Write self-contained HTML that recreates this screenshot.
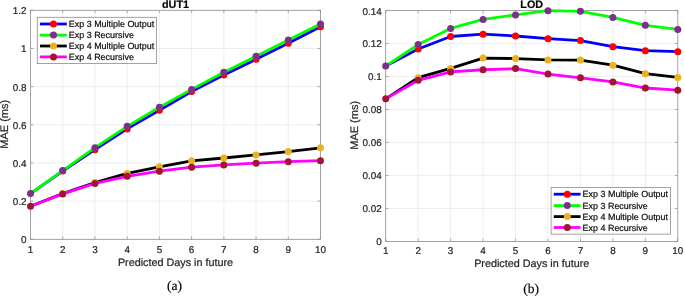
<!DOCTYPE html>
<html><head><meta charset="utf-8"><style>
html,body{margin:0;padding:0;background:#fff;overflow:hidden;}
svg{display:block;will-change:transform;text-rendering:geometricPrecision;}
text{stroke:#262626;stroke-width:0.22px;}
</style></head><body>
<svg width="685" height="296" viewBox="0 0 685 296" font-family='"Liberation Sans", sans-serif' font-size="9.9" fill="#262626">
<line x1="62.72" y1="10.3" x2="62.72" y2="239.3" stroke="#e6e6e6" stroke-width="0.7"/>
<line x1="94.94" y1="10.3" x2="94.94" y2="239.3" stroke="#e6e6e6" stroke-width="0.7"/>
<line x1="127.17" y1="10.3" x2="127.17" y2="239.3" stroke="#e6e6e6" stroke-width="0.7"/>
<line x1="159.39" y1="10.3" x2="159.39" y2="239.3" stroke="#e6e6e6" stroke-width="0.7"/>
<line x1="191.61" y1="10.3" x2="191.61" y2="239.3" stroke="#e6e6e6" stroke-width="0.7"/>
<line x1="223.83" y1="10.3" x2="223.83" y2="239.3" stroke="#e6e6e6" stroke-width="0.7"/>
<line x1="256.06" y1="10.3" x2="256.06" y2="239.3" stroke="#e6e6e6" stroke-width="0.7"/>
<line x1="288.28" y1="10.3" x2="288.28" y2="239.3" stroke="#e6e6e6" stroke-width="0.7"/>
<line x1="30.5" y1="201.13" x2="320.5" y2="201.13" stroke="#e6e6e6" stroke-width="0.7"/>
<line x1="30.5" y1="162.97" x2="320.5" y2="162.97" stroke="#e6e6e6" stroke-width="0.7"/>
<line x1="30.5" y1="124.80" x2="320.5" y2="124.80" stroke="#e6e6e6" stroke-width="0.7"/>
<line x1="30.5" y1="86.63" x2="320.5" y2="86.63" stroke="#e6e6e6" stroke-width="0.7"/>
<line x1="30.5" y1="48.47" x2="320.5" y2="48.47" stroke="#e6e6e6" stroke-width="0.7"/>
<line x1="30.50" y1="239.3" x2="30.50" y2="236.4" stroke="#8c8c8c" stroke-width="0.7"/>
<line x1="30.50" y1="10.3" x2="30.50" y2="13.200000000000001" stroke="#8c8c8c" stroke-width="0.7"/>
<line x1="62.72" y1="239.3" x2="62.72" y2="236.4" stroke="#8c8c8c" stroke-width="0.7"/>
<line x1="62.72" y1="10.3" x2="62.72" y2="13.200000000000001" stroke="#8c8c8c" stroke-width="0.7"/>
<line x1="94.94" y1="239.3" x2="94.94" y2="236.4" stroke="#8c8c8c" stroke-width="0.7"/>
<line x1="94.94" y1="10.3" x2="94.94" y2="13.200000000000001" stroke="#8c8c8c" stroke-width="0.7"/>
<line x1="127.17" y1="239.3" x2="127.17" y2="236.4" stroke="#8c8c8c" stroke-width="0.7"/>
<line x1="127.17" y1="10.3" x2="127.17" y2="13.200000000000001" stroke="#8c8c8c" stroke-width="0.7"/>
<line x1="159.39" y1="239.3" x2="159.39" y2="236.4" stroke="#8c8c8c" stroke-width="0.7"/>
<line x1="159.39" y1="10.3" x2="159.39" y2="13.200000000000001" stroke="#8c8c8c" stroke-width="0.7"/>
<line x1="191.61" y1="239.3" x2="191.61" y2="236.4" stroke="#8c8c8c" stroke-width="0.7"/>
<line x1="191.61" y1="10.3" x2="191.61" y2="13.200000000000001" stroke="#8c8c8c" stroke-width="0.7"/>
<line x1="223.83" y1="239.3" x2="223.83" y2="236.4" stroke="#8c8c8c" stroke-width="0.7"/>
<line x1="223.83" y1="10.3" x2="223.83" y2="13.200000000000001" stroke="#8c8c8c" stroke-width="0.7"/>
<line x1="256.06" y1="239.3" x2="256.06" y2="236.4" stroke="#8c8c8c" stroke-width="0.7"/>
<line x1="256.06" y1="10.3" x2="256.06" y2="13.200000000000001" stroke="#8c8c8c" stroke-width="0.7"/>
<line x1="288.28" y1="239.3" x2="288.28" y2="236.4" stroke="#8c8c8c" stroke-width="0.7"/>
<line x1="288.28" y1="10.3" x2="288.28" y2="13.200000000000001" stroke="#8c8c8c" stroke-width="0.7"/>
<line x1="320.50" y1="239.3" x2="320.50" y2="236.4" stroke="#8c8c8c" stroke-width="0.7"/>
<line x1="320.50" y1="10.3" x2="320.50" y2="13.200000000000001" stroke="#8c8c8c" stroke-width="0.7"/>
<line x1="30.5" y1="239.30" x2="33.4" y2="239.30" stroke="#8c8c8c" stroke-width="0.7"/>
<line x1="320.5" y1="239.30" x2="317.6" y2="239.30" stroke="#8c8c8c" stroke-width="0.7"/>
<line x1="30.5" y1="201.13" x2="33.4" y2="201.13" stroke="#8c8c8c" stroke-width="0.7"/>
<line x1="320.5" y1="201.13" x2="317.6" y2="201.13" stroke="#8c8c8c" stroke-width="0.7"/>
<line x1="30.5" y1="162.97" x2="33.4" y2="162.97" stroke="#8c8c8c" stroke-width="0.7"/>
<line x1="320.5" y1="162.97" x2="317.6" y2="162.97" stroke="#8c8c8c" stroke-width="0.7"/>
<line x1="30.5" y1="124.80" x2="33.4" y2="124.80" stroke="#8c8c8c" stroke-width="0.7"/>
<line x1="320.5" y1="124.80" x2="317.6" y2="124.80" stroke="#8c8c8c" stroke-width="0.7"/>
<line x1="30.5" y1="86.63" x2="33.4" y2="86.63" stroke="#8c8c8c" stroke-width="0.7"/>
<line x1="320.5" y1="86.63" x2="317.6" y2="86.63" stroke="#8c8c8c" stroke-width="0.7"/>
<line x1="30.5" y1="48.47" x2="33.4" y2="48.47" stroke="#8c8c8c" stroke-width="0.7"/>
<line x1="320.5" y1="48.47" x2="317.6" y2="48.47" stroke="#8c8c8c" stroke-width="0.7"/>
<line x1="30.5" y1="10.30" x2="33.4" y2="10.30" stroke="#8c8c8c" stroke-width="0.7"/>
<line x1="320.5" y1="10.30" x2="317.6" y2="10.30" stroke="#8c8c8c" stroke-width="0.7"/>
<rect x="30.5" y="10.3" width="290.00" height="229.00" fill="none" stroke="#8c8c8c" stroke-width="0.8"/>
<polyline points="30.50,193.56 62.72,170.98 94.94,149.70 127.17,128.90 159.39,110.30 191.61,91.59 223.83,75.09 256.06,59.34 288.28,43.31 320.50,26.71" fill="none" stroke="#0000ff" stroke-width="2.8" stroke-linejoin="round"/>
<circle cx="30.50" cy="193.56" r="2.9" fill="#ff0000"/>
<circle cx="62.72" cy="170.98" r="3.5" fill="#ff0000"/>
<circle cx="94.94" cy="149.70" r="3.5" fill="#ff0000"/>
<circle cx="127.17" cy="128.90" r="3.5" fill="#ff0000"/>
<circle cx="159.39" cy="110.30" r="3.5" fill="#ff0000"/>
<circle cx="191.61" cy="91.59" r="3.5" fill="#ff0000"/>
<circle cx="223.83" cy="75.09" r="3.5" fill="#ff0000"/>
<circle cx="256.06" cy="59.34" r="3.5" fill="#ff0000"/>
<circle cx="288.28" cy="43.31" r="3.5" fill="#ff0000"/>
<circle cx="320.50" cy="26.71" r="3.5" fill="#ff0000"/>
<polyline points="30.50,193.56 62.72,170.60 94.94,147.70 127.17,126.33 159.39,107.24 191.61,89.40 223.83,72.32 256.06,56.29 288.28,39.88 320.50,23.91" fill="none" stroke="#00ff00" stroke-width="2.8" stroke-linejoin="round"/>
<circle cx="30.50" cy="193.56" r="3.5" fill="#7e2f8e"/>
<circle cx="62.72" cy="170.60" r="3.5" fill="#7e2f8e"/>
<circle cx="94.94" cy="147.70" r="3.5" fill="#7e2f8e"/>
<circle cx="127.17" cy="126.33" r="3.5" fill="#7e2f8e"/>
<circle cx="159.39" cy="107.24" r="3.5" fill="#7e2f8e"/>
<circle cx="191.61" cy="89.40" r="3.5" fill="#7e2f8e"/>
<circle cx="223.83" cy="72.32" r="3.5" fill="#7e2f8e"/>
<circle cx="256.06" cy="56.29" r="3.5" fill="#7e2f8e"/>
<circle cx="288.28" cy="39.88" r="3.5" fill="#7e2f8e"/>
<circle cx="320.50" cy="23.91" r="3.5" fill="#7e2f8e"/>
<polyline points="30.50,206.29 62.72,193.60 94.94,182.62 127.17,173.46 159.39,166.78 191.61,160.87 223.83,158.00 256.06,154.95 288.28,151.52 320.50,147.80" fill="none" stroke="#000000" stroke-width="2.8" stroke-linejoin="round"/>
<circle cx="30.50" cy="206.29" r="2.9" fill="#edb120"/>
<circle cx="62.72" cy="193.60" r="3.5" fill="#edb120"/>
<circle cx="94.94" cy="182.62" r="3.5" fill="#edb120"/>
<circle cx="127.17" cy="173.46" r="3.5" fill="#edb120"/>
<circle cx="159.39" cy="166.78" r="3.5" fill="#edb120"/>
<circle cx="191.61" cy="160.87" r="3.5" fill="#edb120"/>
<circle cx="223.83" cy="158.00" r="3.5" fill="#edb120"/>
<circle cx="256.06" cy="154.95" r="3.5" fill="#edb120"/>
<circle cx="288.28" cy="151.52" r="3.5" fill="#edb120"/>
<circle cx="320.50" cy="147.80" r="3.5" fill="#edb120"/>
<polyline points="30.50,206.29 62.72,193.88 94.94,183.39 127.17,176.32 159.39,171.17 191.61,167.17 223.83,164.88 256.06,163.16 288.28,161.63 320.50,160.68" fill="none" stroke="#ff00ff" stroke-width="2.8" stroke-linejoin="round"/>
<circle cx="30.50" cy="206.29" r="3.5" fill="#a2142f"/>
<circle cx="62.72" cy="193.88" r="3.5" fill="#a2142f"/>
<circle cx="94.94" cy="183.39" r="3.5" fill="#a2142f"/>
<circle cx="127.17" cy="176.32" r="3.5" fill="#a2142f"/>
<circle cx="159.39" cy="171.17" r="3.5" fill="#a2142f"/>
<circle cx="191.61" cy="167.17" r="3.5" fill="#a2142f"/>
<circle cx="223.83" cy="164.88" r="3.5" fill="#a2142f"/>
<circle cx="256.06" cy="163.16" r="3.5" fill="#a2142f"/>
<circle cx="288.28" cy="161.63" r="3.5" fill="#a2142f"/>
<circle cx="320.50" cy="160.68" r="3.5" fill="#a2142f"/>
<text x="30.50" y="252.90" text-anchor="middle">1</text>
<text x="62.72" y="252.90" text-anchor="middle">2</text>
<text x="94.94" y="252.90" text-anchor="middle">3</text>
<text x="127.17" y="252.90" text-anchor="middle">4</text>
<text x="159.39" y="252.90" text-anchor="middle">5</text>
<text x="191.61" y="252.90" text-anchor="middle">6</text>
<text x="223.83" y="252.90" text-anchor="middle">7</text>
<text x="256.06" y="252.90" text-anchor="middle">8</text>
<text x="288.28" y="252.90" text-anchor="middle">9</text>
<text x="320.50" y="252.90" text-anchor="middle">10</text>
<text x="26.60" y="243.30" text-anchor="end">0</text>
<text x="26.60" y="205.13" text-anchor="end">0.2</text>
<text x="26.60" y="166.97" text-anchor="end">0.4</text>
<text x="26.60" y="128.80" text-anchor="end">0.6</text>
<text x="26.60" y="90.63" text-anchor="end">0.8</text>
<text x="26.60" y="52.47" text-anchor="end">1</text>
<text x="26.60" y="14.30" text-anchor="end">1.2</text>
<text x="175.50" y="265.50" text-anchor="middle" font-size="10.8">Predicted Days in future</text>
<text x="175.50" y="7.9" text-anchor="middle" font-size="10.8" font-weight="bold" fill="#000">dUT1</text>
<rect x="37.3" y="17.3" width="119.3" height="46.3" fill="#fff" stroke="#8c8c8c" stroke-width="0.8"/>
<line x1="40.00" y1="24.0" x2="66.80" y2="24.0" stroke="#0000ff" stroke-width="2.8"/>
<circle cx="53.50" cy="24.0" r="3.5" fill="#ff0000"/>
<text x="68.80" y="27.00" font-size="8.95" fill="#000">Exp 3 Multiple Output</text>
<line x1="40.00" y1="35.1" x2="66.80" y2="35.1" stroke="#00ff00" stroke-width="2.8"/>
<circle cx="53.50" cy="35.1" r="3.5" fill="#7e2f8e"/>
<text x="68.80" y="38.10" font-size="8.95" fill="#000">Exp 3 Recursive</text>
<line x1="40.00" y1="46.0" x2="66.80" y2="46.0" stroke="#000000" stroke-width="2.8"/>
<circle cx="53.50" cy="46.0" r="3.5" fill="#edb120"/>
<text x="68.80" y="49.00" font-size="8.95" fill="#000">Exp 4 Multiple Output</text>
<line x1="40.00" y1="56.9" x2="66.80" y2="56.9" stroke="#ff00ff" stroke-width="2.8"/>
<circle cx="53.50" cy="56.9" r="3.5" fill="#a2142f"/>
<text x="68.80" y="59.90" font-size="8.95" fill="#000">Exp 4 Recursive</text>
<line x1="418.16" y1="10.5" x2="418.16" y2="241.4" stroke="#e6e6e6" stroke-width="0.7"/>
<line x1="450.61" y1="10.5" x2="450.61" y2="241.4" stroke="#e6e6e6" stroke-width="0.7"/>
<line x1="483.07" y1="10.5" x2="483.07" y2="241.4" stroke="#e6e6e6" stroke-width="0.7"/>
<line x1="515.52" y1="10.5" x2="515.52" y2="241.4" stroke="#e6e6e6" stroke-width="0.7"/>
<line x1="547.98" y1="10.5" x2="547.98" y2="241.4" stroke="#e6e6e6" stroke-width="0.7"/>
<line x1="580.43" y1="10.5" x2="580.43" y2="241.4" stroke="#e6e6e6" stroke-width="0.7"/>
<line x1="612.89" y1="10.5" x2="612.89" y2="241.4" stroke="#e6e6e6" stroke-width="0.7"/>
<line x1="645.34" y1="10.5" x2="645.34" y2="241.4" stroke="#e6e6e6" stroke-width="0.7"/>
<line x1="385.7" y1="208.41" x2="677.8" y2="208.41" stroke="#e6e6e6" stroke-width="0.7"/>
<line x1="385.7" y1="175.43" x2="677.8" y2="175.43" stroke="#e6e6e6" stroke-width="0.7"/>
<line x1="385.7" y1="142.44" x2="677.8" y2="142.44" stroke="#e6e6e6" stroke-width="0.7"/>
<line x1="385.7" y1="109.46" x2="677.8" y2="109.46" stroke="#e6e6e6" stroke-width="0.7"/>
<line x1="385.7" y1="76.47" x2="677.8" y2="76.47" stroke="#e6e6e6" stroke-width="0.7"/>
<line x1="385.7" y1="43.49" x2="677.8" y2="43.49" stroke="#e6e6e6" stroke-width="0.7"/>
<line x1="385.70" y1="241.4" x2="385.70" y2="238.5" stroke="#8c8c8c" stroke-width="0.7"/>
<line x1="385.70" y1="10.5" x2="385.70" y2="13.4" stroke="#8c8c8c" stroke-width="0.7"/>
<line x1="418.16" y1="241.4" x2="418.16" y2="238.5" stroke="#8c8c8c" stroke-width="0.7"/>
<line x1="418.16" y1="10.5" x2="418.16" y2="13.4" stroke="#8c8c8c" stroke-width="0.7"/>
<line x1="450.61" y1="241.4" x2="450.61" y2="238.5" stroke="#8c8c8c" stroke-width="0.7"/>
<line x1="450.61" y1="10.5" x2="450.61" y2="13.4" stroke="#8c8c8c" stroke-width="0.7"/>
<line x1="483.07" y1="241.4" x2="483.07" y2="238.5" stroke="#8c8c8c" stroke-width="0.7"/>
<line x1="483.07" y1="10.5" x2="483.07" y2="13.4" stroke="#8c8c8c" stroke-width="0.7"/>
<line x1="515.52" y1="241.4" x2="515.52" y2="238.5" stroke="#8c8c8c" stroke-width="0.7"/>
<line x1="515.52" y1="10.5" x2="515.52" y2="13.4" stroke="#8c8c8c" stroke-width="0.7"/>
<line x1="547.98" y1="241.4" x2="547.98" y2="238.5" stroke="#8c8c8c" stroke-width="0.7"/>
<line x1="547.98" y1="10.5" x2="547.98" y2="13.4" stroke="#8c8c8c" stroke-width="0.7"/>
<line x1="580.43" y1="241.4" x2="580.43" y2="238.5" stroke="#8c8c8c" stroke-width="0.7"/>
<line x1="580.43" y1="10.5" x2="580.43" y2="13.4" stroke="#8c8c8c" stroke-width="0.7"/>
<line x1="612.89" y1="241.4" x2="612.89" y2="238.5" stroke="#8c8c8c" stroke-width="0.7"/>
<line x1="612.89" y1="10.5" x2="612.89" y2="13.4" stroke="#8c8c8c" stroke-width="0.7"/>
<line x1="645.34" y1="241.4" x2="645.34" y2="238.5" stroke="#8c8c8c" stroke-width="0.7"/>
<line x1="645.34" y1="10.5" x2="645.34" y2="13.4" stroke="#8c8c8c" stroke-width="0.7"/>
<line x1="677.80" y1="241.4" x2="677.80" y2="238.5" stroke="#8c8c8c" stroke-width="0.7"/>
<line x1="677.80" y1="10.5" x2="677.80" y2="13.4" stroke="#8c8c8c" stroke-width="0.7"/>
<line x1="385.7" y1="241.40" x2="388.59999999999997" y2="241.40" stroke="#8c8c8c" stroke-width="0.7"/>
<line x1="677.8" y1="241.40" x2="674.9" y2="241.40" stroke="#8c8c8c" stroke-width="0.7"/>
<line x1="385.7" y1="208.41" x2="388.59999999999997" y2="208.41" stroke="#8c8c8c" stroke-width="0.7"/>
<line x1="677.8" y1="208.41" x2="674.9" y2="208.41" stroke="#8c8c8c" stroke-width="0.7"/>
<line x1="385.7" y1="175.43" x2="388.59999999999997" y2="175.43" stroke="#8c8c8c" stroke-width="0.7"/>
<line x1="677.8" y1="175.43" x2="674.9" y2="175.43" stroke="#8c8c8c" stroke-width="0.7"/>
<line x1="385.7" y1="142.44" x2="388.59999999999997" y2="142.44" stroke="#8c8c8c" stroke-width="0.7"/>
<line x1="677.8" y1="142.44" x2="674.9" y2="142.44" stroke="#8c8c8c" stroke-width="0.7"/>
<line x1="385.7" y1="109.46" x2="388.59999999999997" y2="109.46" stroke="#8c8c8c" stroke-width="0.7"/>
<line x1="677.8" y1="109.46" x2="674.9" y2="109.46" stroke="#8c8c8c" stroke-width="0.7"/>
<line x1="385.7" y1="76.47" x2="388.59999999999997" y2="76.47" stroke="#8c8c8c" stroke-width="0.7"/>
<line x1="677.8" y1="76.47" x2="674.9" y2="76.47" stroke="#8c8c8c" stroke-width="0.7"/>
<line x1="385.7" y1="43.49" x2="388.59999999999997" y2="43.49" stroke="#8c8c8c" stroke-width="0.7"/>
<line x1="677.8" y1="43.49" x2="674.9" y2="43.49" stroke="#8c8c8c" stroke-width="0.7"/>
<line x1="385.7" y1="10.50" x2="388.59999999999997" y2="10.50" stroke="#8c8c8c" stroke-width="0.7"/>
<line x1="677.8" y1="10.50" x2="674.9" y2="10.50" stroke="#8c8c8c" stroke-width="0.7"/>
<rect x="385.7" y="10.5" width="292.10" height="230.90" fill="none" stroke="#8c8c8c" stroke-width="0.8"/>
<polyline points="385.70,65.97 418.16,49.01 450.61,36.51 483.07,34.20 515.52,36.01 547.98,38.64 580.43,40.62 612.89,46.70 645.34,50.66 677.80,51.65" fill="none" stroke="#0000ff" stroke-width="2.8" stroke-linejoin="round"/>
<circle cx="385.70" cy="65.97" r="2.9" fill="#ff0000"/>
<circle cx="418.16" cy="49.01" r="3.5" fill="#ff0000"/>
<circle cx="450.61" cy="36.51" r="3.5" fill="#ff0000"/>
<circle cx="483.07" cy="34.20" r="3.5" fill="#ff0000"/>
<circle cx="515.52" cy="36.01" r="3.5" fill="#ff0000"/>
<circle cx="547.98" cy="38.64" r="3.5" fill="#ff0000"/>
<circle cx="580.43" cy="40.62" r="3.5" fill="#ff0000"/>
<circle cx="612.89" cy="46.70" r="3.5" fill="#ff0000"/>
<circle cx="645.34" cy="50.66" r="3.5" fill="#ff0000"/>
<circle cx="677.80" cy="51.65" r="3.5" fill="#ff0000"/>
<polyline points="385.70,65.97 418.16,44.57 450.61,28.44 483.07,19.39 515.52,14.95 547.98,10.66 580.43,11.32 612.89,17.41 645.34,25.31 677.80,29.43" fill="none" stroke="#00ff00" stroke-width="2.8" stroke-linejoin="round"/>
<circle cx="385.70" cy="65.97" r="3.5" fill="#7e2f8e"/>
<circle cx="418.16" cy="44.57" r="3.5" fill="#7e2f8e"/>
<circle cx="450.61" cy="28.44" r="3.5" fill="#7e2f8e"/>
<circle cx="483.07" cy="19.39" r="3.5" fill="#7e2f8e"/>
<circle cx="515.52" cy="14.95" r="3.5" fill="#7e2f8e"/>
<circle cx="547.98" cy="10.66" r="3.5" fill="#7e2f8e"/>
<circle cx="580.43" cy="11.32" r="3.5" fill="#7e2f8e"/>
<circle cx="612.89" cy="17.41" r="3.5" fill="#7e2f8e"/>
<circle cx="645.34" cy="25.31" r="3.5" fill="#7e2f8e"/>
<circle cx="677.80" cy="29.43" r="3.5" fill="#7e2f8e"/>
<polyline points="385.70,98.87 418.16,77.64 450.61,68.42 483.07,58.07 515.52,58.56 547.98,59.88 580.43,60.04 612.89,65.14 645.34,73.70 677.80,77.48" fill="none" stroke="#000000" stroke-width="2.8" stroke-linejoin="round"/>
<circle cx="385.70" cy="98.87" r="2.9" fill="#edb120"/>
<circle cx="418.16" cy="77.64" r="3.5" fill="#edb120"/>
<circle cx="450.61" cy="68.42" r="3.5" fill="#edb120"/>
<circle cx="483.07" cy="58.07" r="3.5" fill="#edb120"/>
<circle cx="515.52" cy="58.56" r="3.5" fill="#edb120"/>
<circle cx="547.98" cy="59.88" r="3.5" fill="#edb120"/>
<circle cx="580.43" cy="60.04" r="3.5" fill="#edb120"/>
<circle cx="612.89" cy="65.14" r="3.5" fill="#edb120"/>
<circle cx="645.34" cy="73.70" r="3.5" fill="#edb120"/>
<circle cx="677.80" cy="77.48" r="3.5" fill="#edb120"/>
<polyline points="385.70,98.87 418.16,80.28 450.61,71.89 483.07,69.74 515.52,68.59 547.98,74.03 580.43,77.81 612.89,81.93 645.34,88.02 677.80,90.16" fill="none" stroke="#ff00ff" stroke-width="2.8" stroke-linejoin="round"/>
<circle cx="385.70" cy="98.87" r="3.5" fill="#a2142f"/>
<circle cx="418.16" cy="80.28" r="3.5" fill="#a2142f"/>
<circle cx="450.61" cy="71.89" r="3.5" fill="#a2142f"/>
<circle cx="483.07" cy="69.74" r="3.5" fill="#a2142f"/>
<circle cx="515.52" cy="68.59" r="3.5" fill="#a2142f"/>
<circle cx="547.98" cy="74.03" r="3.5" fill="#a2142f"/>
<circle cx="580.43" cy="77.81" r="3.5" fill="#a2142f"/>
<circle cx="612.89" cy="81.93" r="3.5" fill="#a2142f"/>
<circle cx="645.34" cy="88.02" r="3.5" fill="#a2142f"/>
<circle cx="677.80" cy="90.16" r="3.5" fill="#a2142f"/>
<text x="385.70" y="254.30" text-anchor="middle">1</text>
<text x="418.16" y="254.30" text-anchor="middle">2</text>
<text x="450.61" y="254.30" text-anchor="middle">3</text>
<text x="483.07" y="254.30" text-anchor="middle">4</text>
<text x="515.52" y="254.30" text-anchor="middle">5</text>
<text x="547.98" y="254.30" text-anchor="middle">6</text>
<text x="580.43" y="254.30" text-anchor="middle">7</text>
<text x="612.89" y="254.30" text-anchor="middle">8</text>
<text x="645.34" y="254.30" text-anchor="middle">9</text>
<text x="677.80" y="254.30" text-anchor="middle">10</text>
<text x="381.80" y="245.40" text-anchor="end">0</text>
<text x="381.80" y="212.41" text-anchor="end">0.02</text>
<text x="381.80" y="179.43" text-anchor="end">0.04</text>
<text x="381.80" y="146.44" text-anchor="end">0.06</text>
<text x="381.80" y="113.46" text-anchor="end">0.08</text>
<text x="381.80" y="80.47" text-anchor="end">0.1</text>
<text x="381.80" y="47.49" text-anchor="end">0.12</text>
<text x="381.80" y="14.50" text-anchor="end">0.14</text>
<text x="531.75" y="267.20" text-anchor="middle" font-size="10.8">Predicted Days in future</text>
<text x="531.75" y="7.9" text-anchor="middle" font-size="10.8" font-weight="bold" fill="#000">LOD</text>
<rect x="551.1" y="187.5" width="119.3" height="46.6" fill="#fff" stroke="#8c8c8c" stroke-width="0.8"/>
<line x1="553.80" y1="194.2" x2="580.60" y2="194.2" stroke="#0000ff" stroke-width="2.8"/>
<circle cx="567.30" cy="194.2" r="3.5" fill="#ff0000"/>
<text x="582.60" y="197.20" font-size="8.95" fill="#000">Exp 3 Multiple Output</text>
<line x1="553.80" y1="205.6" x2="580.60" y2="205.6" stroke="#00ff00" stroke-width="2.8"/>
<circle cx="567.30" cy="205.6" r="3.5" fill="#7e2f8e"/>
<text x="582.60" y="208.60" font-size="8.95" fill="#000">Exp 3 Recursive</text>
<line x1="553.80" y1="216.6" x2="580.60" y2="216.6" stroke="#000000" stroke-width="2.8"/>
<circle cx="567.30" cy="216.6" r="3.5" fill="#edb120"/>
<text x="582.60" y="219.60" font-size="8.95" fill="#000">Exp 4 Multiple Output</text>
<line x1="553.80" y1="227.5" x2="580.60" y2="227.5" stroke="#ff00ff" stroke-width="2.8"/>
<circle cx="567.30" cy="227.5" r="3.5" fill="#a2142f"/>
<text x="582.60" y="230.50" font-size="8.95" fill="#000">Exp 4 Recursive</text>
<text transform="translate(8.2,124.3) rotate(-90)" text-anchor="middle" font-size="11">MAE (ms)</text>
<text transform="translate(358.1,125.35) rotate(-90)" text-anchor="middle" font-size="11">MAE (ms)</text>
<text x="174.6" y="289.8" text-anchor="middle" font-family='"Liberation Serif", serif' font-size="13.5" fill="#000">(a)</text>
<text x="531.1" y="293.3" text-anchor="middle" font-family='"Liberation Serif", serif' font-size="13.5" fill="#000">(b)</text>
</svg>
</body></html>
